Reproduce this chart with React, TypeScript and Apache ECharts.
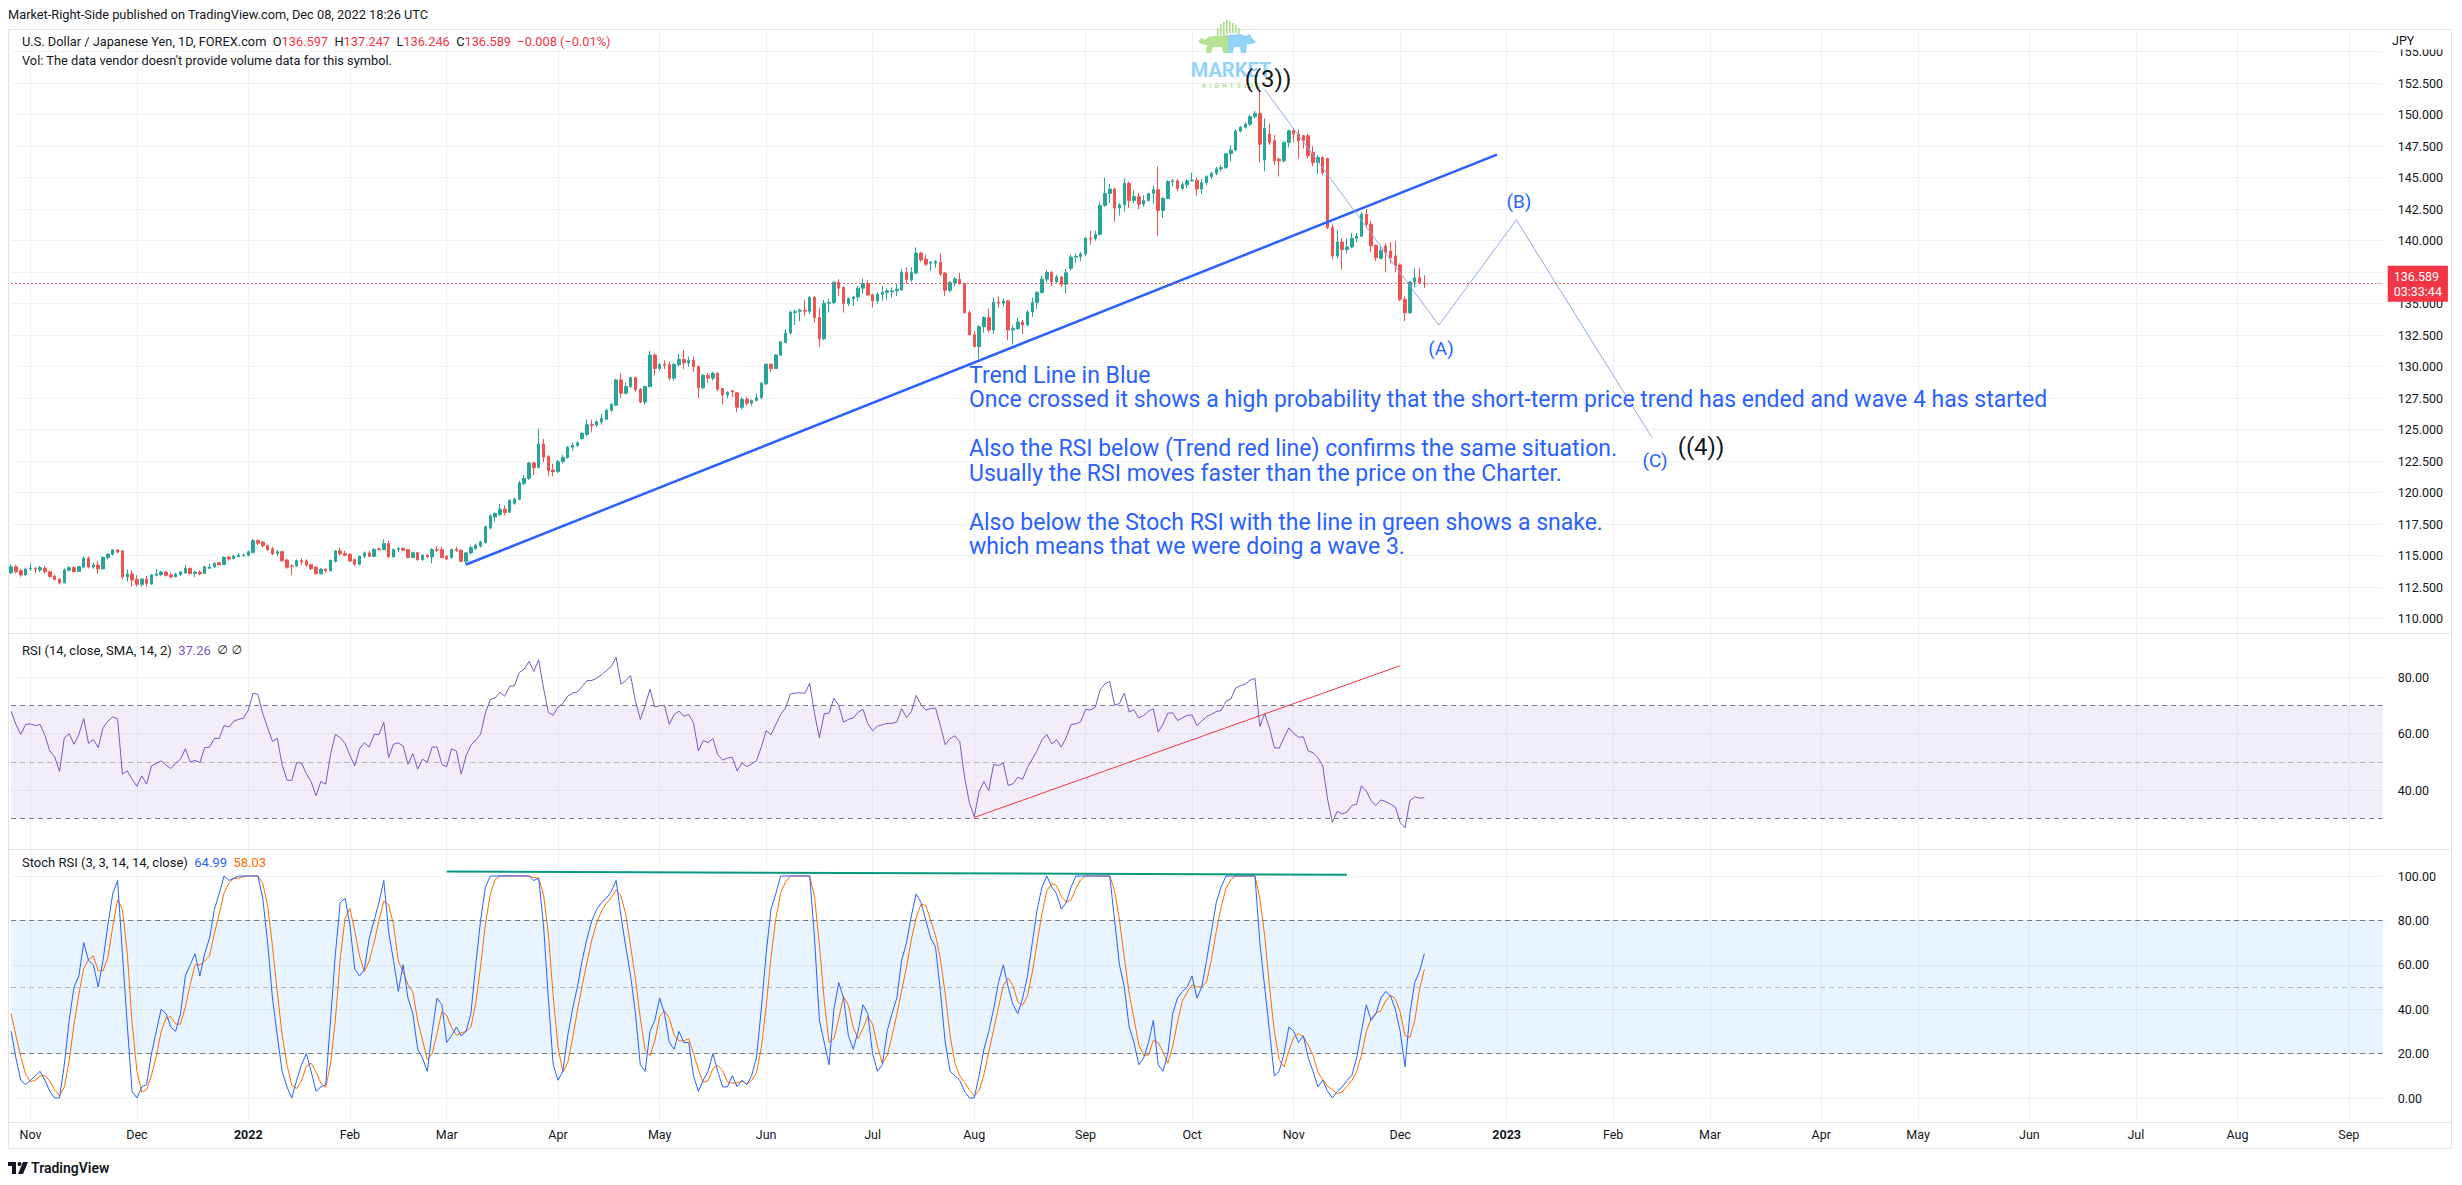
import React, { useEffect, useRef } from "react";
import * as echarts from "echarts";

// ---------- categories (trading days) ----------
const FIRST_DAY = Date.UTC(2021, 9, 26);
const BAR_COUNT = 491;
const dates: string[] = [];
for (let t = FIRST_DAY; dates.length < BAR_COUNT; t += 86400000) {
  const d = new Date(t);
  const wd = d.getUTCDay();
  if (wd !== 0 && wd !== 6) dates.push(d.toISOString().slice(0, 10));
}
const timeLabels = ["Nov", "Dec", "2022", "Feb", "Mar", "Apr", "May", "Jun", "Jul", "Aug", "Sep", "Oct", "Nov", "Dec", "2023", "Feb", "Mar", "Apr", "May", "Jun", "Jul", "Aug", "Sep"];

// ---------- USD/JPY daily candles ----------
const opens = [
  113.65,114.13,113.81,113.47,113.95,113.98,113.87,114.00,113.73,113.37,
  113.15,112.85,113.85,114.05,113.75,114.10,114.80,114.10,114.26,113.95,
  114.85,115.12,115.46,115.38,113.33,113.55,113.12,112.73,113.15,112.75,
  113.45,113.50,113.70,113.47,113.33,113.50,113.65,114.00,113.60,113.68,
  113.60,114.00,114.10,114.45,114.29,114.90,114.77,114.93,115.00,115.03,
  115.25,116.20,116.09,115.80,115.54,115.16,115.32,114.66,114.20,114.18,
  114.61,114.60,114.29,114.10,113.57,113.94,113.80,114.55,115.38,115.16,
  115.10,114.69,114.32,114.95,115.22,114.95,115.55,115.48,115.96,114.90,
  115.48,115.59,115.48,114.85,115.24,114.69,115.03,114.90,115.50,115.48,
  114.95,114.85,115.50,115.43,114.55,115.22,115.56,115.75,116.04,117.21,
  118.08,118.27,118.69,118.45,119.15,119.49,120.74,121.14,122.36,121.98,
  123.87,122.86,121.80,121.67,122.46,122.80,123.60,123.75,124.30,124.63,
  125.42,125.37,125.61,125.82,126.54,126.94,128.95,127.89,128.42,129.14,
  128.21,127.20,128.42,130.92,129.86,130.20,130.17,129.09,130.17,130.57,
  130.30,130.49,130.02,128.32,129.30,129.09,129.48,128.26,127.76,128.10,
  127.94,126.78,127.41,127.10,127.31,127.55,128.64,130.20,129.86,130.92,
  131.93,132.67,134.30,134.40,134.48,134.40,135.51,133.90,132.22,135.04,
  135.09,136.71,136.28,135.01,135.41,135.54,136.23,136.60,135.70,135.22,
  135.75,135.89,135.94,136.02,136.10,137.48,136.90,137.43,139.02,138.54,
  138.22,138.22,138.30,137.43,136.07,136.68,136.92,136.60,134.29,132.54,
  131.59,133.18,133.90,132.91,135.12,135.04,135.22,132.91,133.02,133.55,
  133.31,134.35,135.09,135.89,136.95,137.48,136.75,137.12,136.55,137.80,
  138.70,138.75,138.95,140.20,140.15,140.50,142.80,143.75,144.10,142.60,
  142.85,144.55,143.20,143.50,142.90,143.20,143.75,144.05,142.40,143.35,
  144.70,144.75,144.15,144.45,144.75,144.80,144.10,144.60,145.10,145.35,
  145.70,145.80,146.90,147.20,148.70,149.00,149.25,149.85,150.10,146.40,
  148.46,147.93,146.47,146.34,147.80,148.72,148.46,148.33,148.33,147.00,
  146.20,146.60,146.52,141.04,138.79,139.90,139.30,139.50,140.20,140.35,
  142.10,141.30,139.63,138.60,139.58,139.18,138.80,138.07,135.34,134.28,
  136.72,137.06,136.597,
];
const closes = [
  114.13,113.73,113.47,113.95,113.98,113.92,114.05,113.73,113.35,113.12,
  112.85,113.87,114.05,113.75,114.13,114.80,114.10,114.26,113.95,114.87,
  115.13,115.46,115.28,113.33,113.55,113.07,112.73,113.15,112.80,113.47,
  113.55,113.70,113.44,113.30,113.55,113.70,114.00,113.58,113.70,113.55,
  114.13,114.10,114.40,114.29,114.87,114.74,114.98,115.06,115.06,115.32,
  116.20,115.99,115.78,115.48,115.14,115.32,114.61,114.08,114.17,114.61,
  114.50,114.26,113.97,113.57,113.94,113.80,114.63,115.38,115.16,115.03,
  114.58,114.32,114.95,115.22,114.95,115.50,115.48,115.96,114.90,115.48,
  115.56,115.43,114.85,115.24,114.69,115.03,114.90,115.48,115.43,114.85,
  114.74,115.50,115.40,114.55,115.22,115.64,115.83,116.09,117.29,118.16,
  118.35,118.69,118.43,119.41,119.49,120.79,121.14,122.36,121.98,123.87,
  122.81,121.75,121.67,122.46,122.80,123.60,123.75,123.95,124.71,125.40,
  125.34,125.64,125.90,126.54,127.02,128.95,127.89,128.42,129.14,128.16,
  127.20,128.42,130.92,129.86,130.17,130.12,129.09,130.17,130.57,130.30,
  130.49,130.02,128.32,129.33,129.10,129.46,128.21,127.76,127.94,128.00,
  126.78,127.41,127.10,127.31,127.55,128.69,130.20,129.86,130.92,131.98,
  132.67,134.32,134.37,134.48,134.40,135.51,133.90,132.22,135.04,135.09,
  136.71,136.23,135.01,135.41,135.54,136.23,136.60,135.70,135.22,135.75,
  135.89,136.02,136.02,136.15,137.48,136.90,137.48,139.02,138.49,138.14,
  138.30,138.35,137.35,136.07,136.68,136.97,136.60,134.29,132.54,131.59,
  133.18,133.90,132.91,135.12,135.04,135.22,132.91,133.02,133.55,133.31,
  134.35,135.09,135.89,136.95,137.48,136.75,137.12,136.55,137.45,138.70,
  138.75,138.95,140.20,140.15,140.50,142.80,143.75,144.10,142.60,142.85,
  144.55,143.20,143.50,142.90,143.20,143.75,144.05,142.40,143.35,144.70,
  144.75,144.15,144.45,144.75,144.80,144.10,144.60,145.10,145.35,145.70,
  145.80,146.90,147.20,148.70,149.00,149.25,149.85,150.10,147.65,148.95,
  147.80,146.34,146.34,147.80,148.72,148.46,147.93,147.93,146.74,146.20,
  146.60,145.40,141.04,138.79,139.90,139.30,139.50,140.20,140.35,142.10,
  141.30,139.60,138.65,139.20,139.05,138.65,138.00,135.34,134.28,136.72,
  137.06,136.65,136.589,
];
const lows = [
  113.55,113.60,113.30,113.40,113.80,113.60,113.70,113.60,113.25,113.05,
  112.72,112.80,113.75,113.65,113.70,114.00,114.00,113.95,113.55,113.90,
  114.70,115.00,115.20,113.10,112.95,112.55,112.55,112.55,112.55,112.70,
  113.35,113.40,113.35,113.22,113.30,113.40,113.55,113.50,113.30,113.45,
  113.55,113.95,114.05,114.22,114.25,114.60,114.70,114.88,114.95,114.95,
  115.20,115.85,115.65,115.40,115.05,114.95,114.50,113.95,113.47,114.10,
  114.25,114.10,113.85,113.50,113.50,113.65,113.75,114.45,115.00,114.95,
  114.50,114.20,114.25,114.80,114.90,114.90,115.40,115.45,114.85,114.85,
  115.30,115.35,114.80,114.80,114.60,114.60,114.80,114.40,115.30,114.80,
  114.65,114.80,115.30,114.50,114.30,115.10,115.45,115.65,115.95,117.10,
  117.70,118.15,118.20,118.40,119.05,119.40,120.60,121.00,121.40,121.95,
  122.40,121.30,121.30,121.60,122.30,122.70,123.30,123.65,124.20,124.50,
  124.80,125.20,125.40,125.75,126.40,126.90,127.50,127.80,128.30,128.00,
  127.10,127.00,128.35,129.30,129.70,129.80,128.90,128.90,130.00,129.80,
  130.00,129.60,127.50,128.20,128.70,128.90,128.05,127.00,127.50,127.60,
  126.40,126.60,126.90,126.90,127.30,127.40,128.55,129.55,129.80,130.85,
  131.85,132.55,133.30,133.60,134.00,134.20,133.50,131.56,132.10,134.30,
  134.95,135.60,134.30,134.80,134.80,135.20,135.80,135.60,134.70,135.00,
  135.20,135.30,135.50,135.60,136.00,136.60,136.70,137.35,138.30,138.00,
  137.60,137.85,137.20,135.60,135.90,136.40,136.50,134.20,132.50,131.55,
  130.63,132.70,132.70,132.60,134.70,134.75,132.10,131.75,132.90,132.60,
  133.20,133.95,134.60,135.80,136.70,136.40,136.60,136.30,135.80,137.60,
  138.20,138.40,138.80,139.70,140.00,140.40,142.70,143.00,141.50,142.00,
  142.30,142.60,143.00,142.50,142.70,143.10,142.90,140.35,141.80,143.30,
  144.30,143.90,144.00,144.20,144.70,143.55,143.70,144.40,144.90,145.20,
  145.50,145.70,146.30,147.10,148.60,148.90,149.10,149.70,146.20,145.50,
  147.60,146.00,145.10,146.20,147.40,147.80,146.50,147.30,146.50,145.90,
  145.30,145.20,140.90,138.50,138.60,137.70,139.00,139.40,139.90,140.30,
  141.10,139.10,138.40,138.50,137.50,138.20,137.50,135.20,133.60,134.20,
  136.30,136.60,136.246,
];
const highs = [
  114.30,114.25,113.95,114.05,114.40,114.10,114.20,114.20,113.80,113.50,
  113.20,114.00,114.20,114.20,114.20,114.95,114.95,114.45,114.60,114.95,
  115.20,115.52,115.52,115.45,113.90,113.85,113.45,113.20,113.40,113.55,
  113.95,113.80,113.80,113.65,113.65,113.78,114.25,114.05,113.78,113.85,
  114.20,114.35,114.45,114.50,114.95,114.95,115.05,115.20,115.15,115.40,
  116.35,116.30,116.15,115.90,115.70,115.45,115.40,114.75,114.30,114.70,
  114.80,114.70,114.35,114.15,114.00,114.00,114.70,115.45,115.65,115.40,
  115.20,114.75,115.00,115.35,115.40,115.60,115.65,116.30,116.20,115.60,
  115.70,115.65,115.55,115.30,115.30,115.10,115.15,115.60,115.75,115.70,
  115.05,115.55,115.70,115.50,115.30,115.80,115.95,116.20,117.40,118.30,
  118.45,119.10,119.00,119.45,119.60,120.95,121.40,122.45,122.45,125.06,
  124.27,123.00,122.30,122.60,123.00,123.70,124.00,124.10,124.80,125.80,
  125.80,125.75,126.30,126.65,127.10,129.05,129.48,128.75,129.20,129.20,
  128.30,128.50,131.26,131.05,130.30,130.50,130.40,130.30,131.00,131.35,
  130.80,130.80,130.10,129.40,129.50,129.60,129.55,128.30,128.05,128.15,
  128.00,127.60,127.60,127.40,127.90,128.80,130.25,130.25,131.00,132.00,
  133.00,134.45,134.55,134.60,135.30,135.60,135.60,134.70,135.30,135.40,
  136.75,136.95,136.40,135.50,135.60,136.40,137.00,136.90,135.80,135.90,
  136.40,136.20,136.30,136.55,137.75,137.90,137.90,139.47,139.10,138.90,
  138.40,138.45,139.00,137.50,136.80,137.10,137.45,136.65,134.45,132.80,
  133.30,134.00,134.60,135.50,135.60,135.40,135.30,133.30,133.90,133.70,
  134.50,135.50,136.00,137.20,137.70,137.60,137.30,137.20,137.75,138.90,
  139.00,139.10,140.25,140.80,140.80,143.10,144.99,144.50,144.20,143.00,
  144.95,144.70,144.00,143.80,143.60,143.80,144.40,145.90,143.50,144.80,
  144.90,144.90,144.70,144.90,145.40,145.00,144.90,145.20,145.45,145.85,
  146.00,146.95,147.60,148.85,149.10,149.40,149.95,150.30,151.95,149.70,
  149.30,148.40,146.60,147.90,148.80,148.90,148.80,148.40,148.50,147.50,
  146.80,146.70,146.60,141.30,140.80,140.20,140.20,140.60,140.60,142.25,
  142.50,141.60,139.70,139.50,139.80,139.90,139.98,138.20,135.60,136.80,
  137.85,137.85,137.247,
];

// ---------- RSI (14) ----------
const rsi = [
  67.9,63.2,59.7,63.2,63.4,62.8,63.2,59.3,53.8,51.8,
  46.5,58.5,59.9,56.2,59.7,65.3,56.5,57.9,55.0,62.0,
  64.4,65.9,65.2,45.6,46.8,43.8,41.3,45.0,42.1,48.5,
  49.4,50.3,48.8,47.6,49.4,50.9,54.6,49.9,50.5,49.7,
  55.0,55.2,58.2,58.3,62.8,62.3,64.4,65.0,65.4,68.2,
  74.3,73.8,67.0,62.0,57.2,58.3,48.9,43.5,43.4,49.7,
  49.5,45.8,42.9,38.0,43.0,42.1,52.6,59.7,58.5,56.5,
  52.3,48.5,54.6,56.7,55.2,59.7,59.7,64.0,51.5,56.2,
  56.7,55.6,49.1,52.9,47.4,50.9,49.9,55.2,55.2,49.1,
  48.2,54.6,53.8,45.6,52.1,55.8,57.7,59.7,67.3,72.0,
  72.6,74.6,73.2,76.7,76.9,81.6,82.8,85.5,82.0,86.1,
  76.1,67.5,66.4,69.4,70.6,73.2,74.3,74.7,76.7,78.7,
  78.8,79.6,80.8,82.3,83.7,87.0,77.5,78.7,80.5,71.4,
  65.0,69.9,75.7,69.4,69.9,69.9,63.2,66.7,67.9,66.1,
  66.7,63.8,53.8,57.5,56.8,58.2,52.5,50.6,51.3,51.6,
  46.8,49.5,48.3,49.2,50.3,55.2,61.0,59.6,63.2,66.8,
  69.0,74.0,74.3,74.4,74.2,77.8,67.0,58.5,67.0,67.2,
  72.5,70.0,64.0,65.0,65.5,67.5,68.6,63.5,61.0,62.6,
  63.1,63.6,63.6,64.1,68.8,65.6,67.7,73.5,70.2,68.3,
  68.8,69.0,62.8,56.0,58.2,59.2,57.1,44.5,35.5,30.5,
  39.5,43.0,39.8,49.0,48.7,49.5,41.6,42.2,44.5,43.8,
  48.0,51.0,54.0,57.8,59.6,56.3,57.8,55.2,58.6,63.2,
  63.4,64.2,68.5,68.3,69.3,75.4,77.6,78.4,70.0,70.6,
  74.3,67.6,68.4,65.5,66.4,67.9,68.7,60.5,63.3,67.2,
  67.3,64.6,65.5,66.4,66.6,62.8,64.4,66.0,66.8,67.8,
  68.1,71.4,72.2,76.1,76.9,77.5,78.9,79.5,62.5,67.0,
  62.0,55.0,54.8,58.5,62.0,60.0,58.7,58.8,53.8,53.2,
  51.5,48.5,36.8,28.5,32.5,31.5,32.2,34.5,35.0,41.5,
  39.6,36.2,34.5,36.5,35.9,35.0,34.0,28.5,26.6,36.2,
  37.6,37.1,37.26,
];

// ---------- Stoch RSI (3, 3, 14, 14) ----------
const stochK = [
  30,18,8,6,8,10,12,8,3,0,
  0,15,35,50,55,70,62,60,50,62,
  78,92,98,65,33,3,0,5,6,20,
  30,40,38,32,30,38,55,60,65,55,
  65,72,85,92,100,98,99,100,100,100,
  100,100,90,70,45,28,12,5,0,8,
  15,20,12,3,5,6,35,65,88,90,
  78,58,55,58,72,80,88,98,75,62,
  48,60,45,38,22,18,12,30,45,42,
  25,28,32,28,30,38,60,80,95,100,
  100,100,100,100,100,100,100,100,98,99,
  78,45,15,8,12,28,40,50,62,72,
  80,85,88,90,93,98,82,68,55,38,
  15,12,30,35,45,38,25,22,30,25,
  25,10,3,8,12,20,12,5,5,10,
  5,8,6,10,18,40,65,85,92,100,
  100,100,100,100,100,100,72,35,25,15,
  40,52,45,28,22,30,42,38,20,12,
  15,30,38,45,62,70,82,92,88,80,
  72,68,48,25,12,10,8,3,0,0,
  10,22,30,40,52,60,50,42,38,45,
  55,70,85,95,100,95,92,85,88,95,
  100,100,100,100,100,100,100,100,80,60,
  50,32,25,15,18,25,35,15,12,20,
  38,45,48,50,55,45,50,62,75,88,
  95,100,100,100,100,100,100,100,70,50,
  30,10,12,20,32,30,25,28,18,12,
  5,8,3,0,3,5,8,10,18,30,
  42,35,38,45,48,46,40,30,14,38,
  52,57,64.99,
];
const stochD = [
  38,28,18.7,10.7,7.3,8,10,10,7.7,3.7,
  1,5,16.7,33.3,46.7,58.3,62.3,64,57.3,57.3,
  63.3,77.3,89.3,85,65.3,33.7,12,2.7,3.7,10.3,
  18.7,30,36,36.7,33.3,33.3,41,51,60,60,
  61.7,64,74,83,92.3,96.7,99,99,99.7,100,
  100,100,96.7,86.7,68.3,47.7,28.3,15,5.7,4.3,
  7.7,14.3,15.7,11.7,6.7,4.7,15.3,35.3,62.7,81,
  85.3,75.3,63.7,57,61.7,70,80,88.7,87,78.3,
  61.7,56.7,51,47.7,35,26,17.3,20,29,39,
  37.3,31.7,28.3,29.3,30,32,42.7,59.3,78.3,91.7,
  98.3,100,100,100,100,100,100,100,99.3,99,
  91.7,74,46,22.7,11.7,16,26.7,39.3,50.7,61.3,
  71.3,79,84.3,87.7,90.3,93.7,91,82.7,68.3,53.7,
  36,21.7,19,25.7,36.7,39.3,36,28.3,25.7,25.7,
  26.7,20,12.7,7,7.7,13.3,14.7,12.3,7.3,6.7,
  6.7,7.7,6.3,8,11.3,22.7,41,63.3,80.7,92.3,
  97.3,100,100,100,100,100,90.7,69,44,25,
  26.7,35.7,45.7,41.7,31.7,26.7,31.3,36.7,33.3,23.3,
  15.7,19,27.7,37.7,48.3,59,71.3,81.3,87.3,86.7,
  80,73.3,62.7,47,28.3,15.7,10,7,3.7,1,
  3.3,10.7,20.7,30.7,40.7,50.7,54,50.7,43.3,41.7,
  46,56.7,70,83.3,93.3,96.7,95.7,90.7,88.3,89.3,
  94.3,98.3,100,100,100,100,100,100,93.3,80,
  63.3,47.3,35.7,24,19.3,19.3,26,25,20.7,15.7,
  23.3,34.3,43.7,47.7,51,50,50,52.3,62.3,75,
  86,94.3,98.3,100,100,100,100,100,90,73.3,
  50,30,17.3,14,21.3,27.3,29,27.7,23.7,19.3,
  11.7,8.3,5.3,3.7,2,2.7,5.3,7.7,12,19.3,
  30,35.7,38.3,39.3,43.7,46.3,44.7,38.7,28,27.3,
  34.7,49,58.03,
];

// ---------- drawings (bar index, value) ----------
const trendLinePts = [[94, 114.3], [307, 146.83]];
const wavePts = [[259, 152.0], [295, 133.3], [311, 141.65], [339, 124.4]];
const rsiTrendPts = [[199, 30.3], [287, 84.0]];
const stochTopPts = [[90, 102.0], [276, 100.6]];
const LAST_PRICE = 136.589;

const noteLines = [
  "Trend Line in Blue",
  "Once crossed it shows a high probability that the short-term price trend has ended and wave 4 has started",
  " ",
  "Also the RSI below (Trend red line) confirms the same situation.",
  "Usually the RSI moves faster than the price on the Charter.",
  " ",
  "Also below the Stoch RSI with the line in green shows a snake.",
  "which means that we were doing a wave 3.",
];

// ---------- style ----------
const FONT = "Roboto";
const TXT = "#131722";
const GRID_C = "#f0f1f5";
const BORDER_C = "#e0e3eb";
const UP = "#26a69a";
const DN = "#ef5350";
const BLUE = "#2962ff";
const GRID_LEFT = 11.1;
const GRID_W = 2371.6;

const monthStart = new Map<number, string>();
{
  let li = 0;
  dates.forEach((d, i) => {
    if (i > 0 && d.slice(0, 7) !== dates[i - 1].slice(0, 7)) {
      monthStart.set(i, timeLabels[li] ?? "");
      li++;
    }
  });
}
const isTick = (i: number) => monthStart.has(i);

function mkX(gridIndex: number) {
  return {
    type: "category",
    gridIndex,
    position: "bottom",
    data: dates,
    boundaryGap: false,
    axisLine: { show: false },
    axisTick: { show: false },
    axisLabel: { show: false },
    splitLine: { show: true, interval: isTick, lineStyle: { color: GRID_C, width: 1 } },
  };
}

function mkY(gridIndex: number, min: number, max: number, interval: number, digits: number) {
  return {
    type: "value",
    gridIndex,
    position: "right",
    min,
    max,
    interval,
    axisLine: { show: false },
    axisTick: { show: false },
    axisLabel: {
      showMinLabel: false,
      showMaxLabel: false,
      margin: 15,
      color: TXT,
      fontSize: 12.5,
      fontFamily: FONT,
      formatter: (v: number) => v.toFixed(digits),
    },
    splitLine: { show: true, showMinLine: false, showMaxLine: false, lineStyle: { color: GRID_C, width: 1 } },
  };
}

function hline(x1: number, y1: number, x2: number, y2: number) {
  return { type: "line", z: 6, silent: true, shape: { x1, y1, x2, y2 }, style: { stroke: BORDER_C, lineWidth: 1 } };
}
function txt(text: string, x: number, y: number, size: number, fill: string, align = "left", weight: any = "normal", extra: any = {}) {
  return {
    type: "text", z: 12, silent: true, x, y,
    style: { text, fontSize: size, fontFamily: FONT, fontWeight: weight, fill, align, verticalAlign: "middle", ...extra },
  };
}
const seg = (fill: string, size = 12.8, family = FONT) => ({ fill, fontSize: size, fontFamily: family });

const logoBars = [
  [1217, 28, 7], [1220, 24, 11], [1223, 22, 13], [1226, 20, 14], [1229, 21, 12], [1232, 23, 10], [1235, 25, 8], [1238, 28, 6],
];

const graphic: any[] = [
  { type: "rect", z: 5, silent: true, shape: { x: 0, y: 0, width: 2462, height: 29.5 }, style: { fill: "#fff" } },
  { type: "rect", z: 5, silent: true, shape: { x: 0, y: 1123, width: 2462, height: 62 }, style: { fill: "#fff" } },
  { type: "rect", z: 11, silent: true, shape: { x: 2386, y: 30, width: 64, height: 19.5 }, style: { fill: "#fff" } },
  txt("JPY", 2392, 40, 12.5, TXT),
  hline(8.5, 29.5, 2451.5, 29.5),
  hline(8.5, 633.5, 2451.5, 633.5),
  hline(8.5, 849.5, 2451.5, 849.5),
  hline(8.5, 1122.5, 2451.5, 1122.5),
  hline(8.5, 1148.5, 2451.5, 1148.5),
  hline(8.5, 29.5, 8.5, 1148.5),
  hline(2451.5, 29.5, 2451.5, 1148.5),
  txt("Market-Right-Side published on TradingView.com, Dec 08, 2022 18:26 UTC", 8, 14, 12.8, TXT),
  txt(
    "{k|U.S. Dollar / Japanese Yen, 1D, FOREX.com}  {k|O}{r|136.597}  {k|H}{r|137.247}  {k|L}{r|136.246}  {k|C}{r|136.589}  {r|\u22120.008 (\u22120.01%)}",
    22, 41, 12.8, TXT, "left", "normal",
    { rich: { k: seg(TXT), r: seg("#f23645") } }
  ),
  txt("Vol: The data vendor doesn't provide volume data for this symbol.", 22, 60, 12.8, TXT),
  txt(
    "{k|RSI (14, close, SMA, 14, 2)}  {p|37.26}  {s|\u2205 \u2205}",
    22, 650, 13, TXT, "left", "normal",
    { rich: { k: seg(TXT, 13), p: seg("#7e57c2", 13), s: seg(TXT, 12, "DejaVu Sans") } }
  ),
  txt(
    "{k|Stoch RSI (3, 3, 14, 14, close)}  {b|64.99}  {o|58.03}",
    22, 862, 13, TXT, "left", "normal",
    { rich: { k: seg(TXT, 13), b: seg(BLUE, 13), o: seg("#ff6d00", 13) } }
  ),
  // logo
  ...logoBars.map(([x, y, h]) => ({ type: "rect", z: 12, silent: true, shape: { x, y, width: 1.6, height: h }, style: { fill: "#a9dd88" } })),
  {
    type: "polygon", z: 12, silent: true,
    shape: { points: [[1198, 41], [1202, 38], [1205, 40], [1208, 37], [1214, 36], [1228, 35], [1228, 53], [1223, 53], [1222, 47], [1213, 47], [1211, 53], [1206, 53], [1207, 45], [1201, 44]] },
    style: { fill: "#b4e393" },
  },
  {
    type: "polygon", z: 12, silent: true,
    shape: { points: [[1228, 35], [1240, 34], [1246, 36], [1250, 34], [1252, 38], [1256, 42], [1252, 44], [1247, 44], [1246, 53], [1241, 53], [1240, 47], [1234, 47], [1233, 53], [1228, 53]] },
    style: { fill: "#93d3fb" },
  },
  txt("MARKET", 1231, 69.5, 20, "#93d3fb", "center", "bold"),
  txt("R  I  G  H  T  S  I  D  E", 1231, 85.5, 6.5, "#b4e393", "center", "bold"),
  // wave labels
  txt("((3))", 1268, 79, 24, TXT, "center"),
  txt("((4))", 1701, 447, 24, TXT, "center"),
  txt("(A)", 1441, 348, 19, BLUE, "center"),
  txt("(B)", 1519, 201, 19, BLUE, "center"),
  txt("(C)", 1655, 460, 19, BLUE, "center"),
  {
    type: "text", z: 12, silent: true, x: 969, y: 362.75,
    style: { text: noteLines.join("\n"), fontSize: 23, fontFamily: FONT, fill: BLUE, lineHeight: 24.5, verticalAlign: "top", align: "left" },
  },
  // TradingView footer
  { type: "rect", z: 12, silent: true, shape: { x: 8, y: 1162, width: 8, height: 4 }, style: { fill: TXT } },
  { type: "rect", z: 12, silent: true, shape: { x: 12, y: 1162, width: 4, height: 12 }, style: { fill: TXT } },
  { type: "circle", z: 12, silent: true, shape: { cx: 19.5, cy: 1164, r: 2 }, style: { fill: TXT } },
  { type: "polygon", z: 12, silent: true, shape: { points: [[23, 1162], [28, 1162], [23, 1174], [18, 1174]] }, style: { fill: TXT } },
  txt("TradingView", 31, 1168, 14, TXT, "left", 600),
];

const candleData = opens.map((o, i) => [o, closes[i], lows[i], highs[i]]);

const option: any = {
  animation: false,
  backgroundColor: "#ffffff",
  textStyle: { fontFamily: FONT },
  grid: [
    { left: GRID_LEFT, width: GRID_W, top: 20.2, height: 630 },
    { left: GRID_LEFT, width: GRID_W, top: 620.5, height: 226 },
    { left: GRID_LEFT, width: GRID_W, top: 831.6, height: 310.8 },
  ],
  xAxis: [
    mkX(0),
    mkX(1),
    mkX(2),
    {
      type: "category",
      gridIndex: 2,
      position: "bottom",
      data: dates,
      boundaryGap: false,
      offset: -20,
      z: 10,
      axisLine: { show: false },
      axisTick: { show: false },
      splitLine: { show: false },
      axisLabel: {
        show: true,
        interval: isTick,
        margin: 6,
        color: TXT,
        fontSize: 12.5,
        fontFamily: FONT,
        formatter: (_v: string, i: number) => {
          const l = monthStart.get(i) ?? "";
          return /^\d{4}$/.test(l) ? `{b|${l}}` : l;
        },
        rich: { b: { fontWeight: "bold", fontSize: 12.5, color: TXT, fontFamily: FONT } },
      },
    },
  ],
  yAxis: [mkY(0, 107.5, 157.5, 2.5, 3), mkY(1, 20, 100, 20, 2), mkY(2, -20, 120, 20, 2)],
  graphic,
  series: [
    {
      type: "candlestick",
      xAxisIndex: 0,
      yAxisIndex: 0,
      data: candleData,
      barWidth: 3,
      z: 3,
      itemStyle: { color: UP, color0: DN, borderColor: UP, borderColor0: DN, borderWidth: 1 },
      markLine: {
        silent: true,
        symbol: ["none", "none"],
        lineStyle: { type: [1.5, 2.5], color: "#f23645", width: 1 },
        label: {
          show: true,
          position: "end",
          distance: 5,
          formatter: `${LAST_PRICE.toFixed(3)}\n03:33:44`,
          backgroundColor: "#f23645",
          color: "#ffffff",
          padding: [3, 6, 3, 6],
          fontSize: 12.5,
          lineHeight: 15,
          fontFamily: FONT,
        },
        data: [{ yAxis: LAST_PRICE }],
      },
    },
    {
      type: "line", xAxisIndex: 0, yAxisIndex: 0, data: trendLinePts, symbol: "none", silent: true, z: 4,
      lineStyle: { color: BLUE, width: 2.5 },
    },
    {
      type: "line", xAxisIndex: 0, yAxisIndex: 0, data: wavePts, symbol: "none", silent: true, z: 4,
      lineStyle: { color: "#8fa9f2", width: 1 },
    },
    {
      type: "line", xAxisIndex: 1, yAxisIndex: 1, data: rsi, symbol: "none", silent: true, z: 3,
      lineStyle: { color: "#7e57c2", width: 1 },
      markArea: { silent: true, itemStyle: { color: "rgba(126,87,194,0.1)" }, data: [[{ yAxis: 70 }, { yAxis: 30 }]] },
      markLine: {
        silent: true, symbol: ["none", "none"], label: { show: false },
        lineStyle: { type: [5, 4], width: 1, color: "#787b86" },
        data: [{ yAxis: 70 }, { yAxis: 50, lineStyle: { color: "rgba(120,123,134,0.5)", type: [5, 4], width: 1 } }, { yAxis: 30 }],
      },
    },
    {
      type: "line", xAxisIndex: 1, yAxisIndex: 1, data: rsiTrendPts, symbol: "none", silent: true, z: 4,
      lineStyle: { color: "#f23645", width: 1 },
    },
    {
      type: "line", xAxisIndex: 2, yAxisIndex: 2, data: stochK, symbol: "none", silent: true, z: 4,
      lineStyle: { color: BLUE, width: 1 },
      markArea: { silent: true, itemStyle: { color: "rgba(33,150,243,0.1)" }, data: [[{ yAxis: 80 }, { yAxis: 20 }]] },
      markLine: {
        silent: true, symbol: ["none", "none"], label: { show: false },
        lineStyle: { type: [5, 4], width: 1, color: "#787b86" },
        data: [{ yAxis: 80 }, { yAxis: 50, lineStyle: { color: "rgba(120,123,134,0.5)", type: [5, 4], width: 1 } }, { yAxis: 20 }],
      },
    },
    {
      type: "line", xAxisIndex: 2, yAxisIndex: 2, data: stochD, symbol: "none", silent: true, z: 3,
      lineStyle: { color: "#ff6d00", width: 1 },
    },
    {
      type: "line", xAxisIndex: 2, yAxisIndex: 2, data: stochTopPts, symbol: "none", silent: true, z: 4,
      lineStyle: { color: "#089981", width: 2 },
    },
  ],
};

export default function App() {
  const ref = useRef<HTMLDivElement>(null);
  useEffect(() => {
    if (!ref.current) return;
    const chart = echarts.init(ref.current, null, { renderer: "svg" });
    chart.setOption(option);
    return () => chart.dispose();
  }, []);
  return (
    <div
      ref={ref}
      style={{ position: "absolute", left: 0, top: 0, width: 2462, height: 1185, background: "#ffffff" }}
    />
  );
}
